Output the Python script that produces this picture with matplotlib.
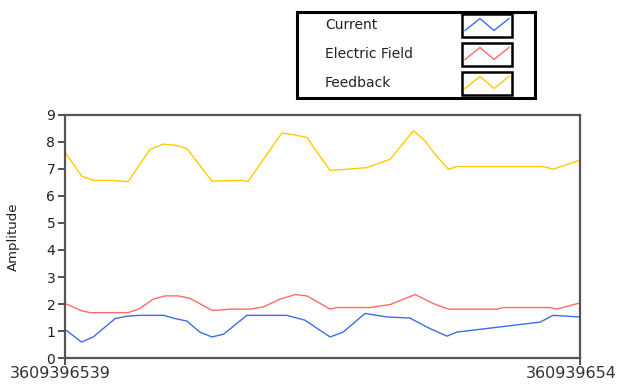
import matplotlib
matplotlib.use("Agg")
import matplotlib.pyplot as plt
import matplotlib.transforms as mtransforms
from matplotlib.patches import Rectangle

# time offsets (s) from 3609396539 and amplitudes
t_current = [0, 3.7, 6.3, 11.2, 13.8, 16.7, 22.0, 24.6, 27.2, 30.1, 32.8, 35.4, 40.6,
             49.5, 53.6, 57.0, 59.2, 62.1, 67.0, 71.9, 77.0, 81.5, 85.3, 87.5,
             106.1, 109.0, 115]
current = [1.06, 0.59, 0.78, 1.46, 1.55, 1.58, 1.58, 1.46, 1.37, 0.96, 0.78, 0.88, 1.58,
           1.58, 1.40, 1.02, 0.78, 0.96, 1.65, 1.52, 1.48, 1.09, 0.81, 0.96,
           1.33, 1.58, 1.52]

t_efield = [0, 3.7, 5.6, 14.1, 16.7, 19.7, 22.3, 25.3, 27.9, 32.8, 34.3, 36.8, 41.3,
            44.3, 48.0, 51.4, 54.0, 57.0, 59.2, 60.7, 68.1, 72.6, 78.2, 82.2, 85.6,
            96.4, 97.9, 108.3, 109.8, 115]
efield = [2.02, 1.75, 1.68, 1.68, 1.83, 2.18, 2.30, 2.30, 2.21, 1.77, 1.77, 1.81, 1.81,
          1.89, 2.18, 2.35, 2.30, 2.02, 1.81, 1.87, 1.87, 1.98, 2.35, 2.02, 1.81,
          1.81, 1.87, 1.87, 1.81, 2.04]

t_feedback = [0, 3.7, 6.3, 10.0, 14.1, 19.0, 22.0, 24.6, 27.2, 32.8, 39.1, 40.9, 48.4,
              51.0, 54.0, 56.9, 59.2, 62.1, 67.4, 72.6, 77.8, 80.4, 82.6, 85.6, 87.5,
              106.8, 109.0, 115]
feedback = [7.62, 6.74, 6.58, 6.58, 6.53, 7.73, 7.92, 7.88, 7.76, 6.55, 6.58, 6.54, 8.33,
            8.27, 8.17, 7.48, 6.95, 6.98, 7.05, 7.36, 8.42, 8.04, 7.55, 6.99, 7.09,
            7.09, 6.99, 7.33]

series_names = ["Current", "Electric Field", "Feedback"]
colors = ["#3a6ee8", "#ff6b6b", "#ffcc00"]
x_ticks = [0, 115]
x_labels = ["3609396539", "360939654"]
y_ticks = list(range(10))

fig = plt.figure(figsize=(6.22, 3.87), dpi=100)
ax = fig.add_axes([0.1045, 0.0749, 0.828, 0.628])

for t, y, c in zip([t_current, t_efield, t_feedback], [current, efield, feedback], colors):
    ax.plot(t, y, color=c, lw=1.0)

ax.set_xlim(0, 115)
ax.set_ylim(0, 9)
ax.set_yticks(y_ticks)
ax.set_xticks(x_ticks)
ax.set_xticklabels(x_labels, fontsize=11.5, color="#222222")
ax.tick_params(axis="y", labelsize=10, colors="#333333", labelcolor="#222222",
               length=5, width=1.2, pad=2)
ax.tick_params(axis="x", colors="#333333", length=5, width=1.2, pad=1)

# nudge the end labels so they sit like the original (and stay inside the figure)
shifts = [-5, -9]
for lab, dx in zip(ax.get_xticklabels(), shifts):
    lab.set_transform(lab.get_transform() +
                      mtransforms.ScaledTranslation(dx / 100, 0, fig.dpi_scale_trans))

for s in ax.spines.values():
    s.set_color("#555555")
    s.set_linewidth(1.6)
ax.set_ylabel("Amplitude", fontsize=9.5, color="#222222")
ax.yaxis.set_label_coords(-0.087, 0.5)

# legend panel drawn by hand, LabVIEW style
lax = fig.add_axes([0.4775, 0.7468, 0.3826, 0.2222])
lax.set_xlim(0, 238)
lax.set_ylim(86, 0)
lax.set_xticks([])
lax.set_yticks([])
for s in lax.spines.values():
    s.set_color("black")
    s.set_linewidth(2.2)

for i, (name, c) in enumerate(zip(series_names, colors)):
    top = 2.5 + i * 29
    lax.text(28, top + 11, name, fontsize=10, color="#222222", va="center", ha="left")
    lax.add_patch(Rectangle((165, top), 50, 23, facecolor="white",
                            edgecolor="black", lw=1.8))
    lax.plot([168, 183, 197, 212], [top + 16, top + 4, top + 16, top + 4],
             color=c, lw=1.0)

fig.savefig("out.png", dpi=100)
